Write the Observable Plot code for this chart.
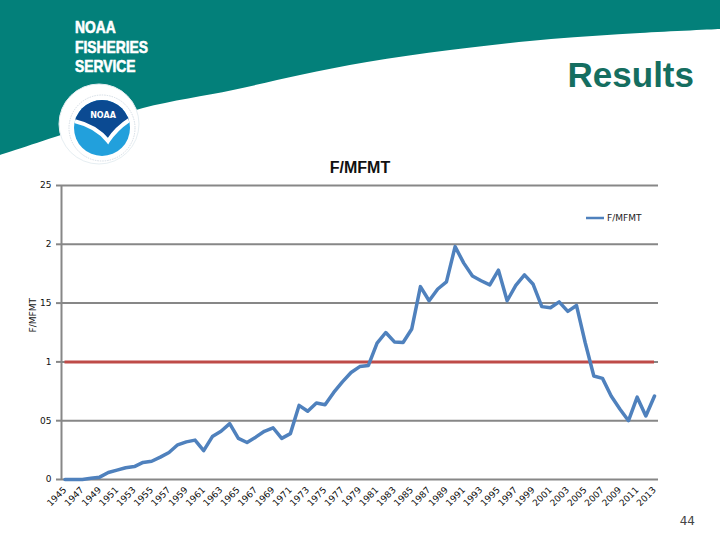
<!DOCTYPE html>
<html>
<head>
<meta charset="utf-8">
<script src="https://cdn.jsdelivr.net/npm/d3@7"></script>
<script src="https://cdn.jsdelivr.net/npm/@observablehq/plot@0.6"></script>
<style>
  body { margin: 0; background: #fff; }
  #chart { width: 720px; height: 540px; position: relative; }
</style>
</head>
<body>
<div id="chart"></div>
<script>
// ---- data ----
const years = [1945,1946,1947,1948,1949,1950,1951,1952,1953,1954,
  1955,1956,1957,1958,1959,1960,1961,1962,1963,1964,
  1965,1966,1967,1968,1969,1970,1971,1972,1973,1974,
  1975,1976,1977,1978,1979,1980,1981,1982,1983,1984,
  1985,1986,1987,1988,1989,1990,1991,1992,1993,1994,
  1995,1996,1997,1998,1999,2000,2001,2002,2003,2004,
  2005,2006,2007,2008,2009,2010,2011,2012,2013];
const fmfmt = [0,0,0,0.01,0.02,0.06,0.08,0.10,0.11,0.145,
  0.155,0.19,0.23,0.295,0.32,0.335,0.245,0.365,0.41,0.475,
  0.35,0.315,0.36,0.41,0.44,0.35,0.39,0.63,0.58,0.65,
  0.635,0.74,0.83,0.91,0.96,0.97,1.16,1.25,1.17,1.165,
  1.28,1.64,1.52,1.62,1.68,1.98,1.84,1.73,1.69,1.655,
  1.78,1.52,1.65,1.74,1.66,1.47,1.46,1.51,1.43,1.48,
  1.165,0.88,0.86,0.71,0.60,0.50,0.70,0.54,0.71];
const mfmtLimit = 1;
const xTickYears = [1945,1947,1949,1951,1953,1955,1957,1959,1961,1963,1965,1967,1969,1971,1973,1975,1977,1979,1981,1983,1985,1987,1989,1991,1993,1995,1997,1999,2001,2003,2005,2007,2009,2011,2013];
const yTicks = [0, 0.5, 1, 1.5, 2, 2.5];
const yTickLabels = ["0", "05", "1", "15", "2", "25"];
const seriesName = "F/MFMT";
const chartTitle = "F/MFMT";
const slideTitle = "Results";
const orgLines = ["NOAA", "FISHERIES", "SERVICE"];
const pageNumber = "44";

const rows = years.map((y, i) => ({year: y, value: fmfmt[i]}));

// ---- decorative slide header (drawn first, behind the chart) ----
function slideHeader() {
  const g = d3.create("svg:g").attr("text-anchor", "start");
  const pts = [[0,155],[70,132],[143,108],[233,90],[300,75],[367,62],[450,50],[551,39],[640,33],[720,29]];
  const edge = d3.line().curve(d3.curveCatmullRom)(pts);
  g.append("path").attr("d", edge + "L720,0L0,0Z").attr("fill", "#03807a");
  orgLines.forEach((t, i) => {
    g.append("text").attr("transform", `translate(75,${33 + i * 19.5}) scale(0.84,1)`)
      .attr("text-anchor", "start")
      .attr("fill", "#fff").attr("stroke", "#fff").attr("stroke-width", 0.6)
      .attr("font-family", "'Liberation Sans', Arial, sans-serif")
      .attr("font-weight", "bold").attr("font-size", 16.5).text(t);
  });
  g.append("text").attr("x", 694).attr("y", 87).attr("text-anchor", "end")
    .attr("fill", "#156e60").attr("font-family", "'Liberation Sans', Arial, sans-serif")
    .attr("font-weight", "bold").attr("font-size", 35).text(slideTitle);
  // logo
  const defs = g.append("defs");
  defs.append("clipPath").attr("id", "logoclip").append("circle").attr("cx", 102).attr("cy", 128).attr("r", 28);
  g.append("circle").attr("cx", 99).attr("cy", 124).attr("r", 40).attr("fill", "#fff").attr("stroke", "#e6eef2");
  g.append("circle").attr("cx", 102).attr("cy", 128).attr("r", 33).attr("fill", "none").attr("stroke", "#b9c6d3").attr("stroke-width", 0.6).attr("stroke-dasharray", "1.5 1");
  g.append("circle").attr("cx", 102).attr("cy", 128).attr("r", 28).attr("fill", "#22a0dc");
  const lg = g.append("g").attr("clip-path", "url(#logoclip)");
  lg.append("path").attr("d", "M70,95H136V118Q120,124 110,140Q100,128 70,119Z").attr("fill", "#0b4a92");
  lg.append("path").attr("d", "M74,121Q96,126 108,141Q117,127 134,117").attr("fill", "none").attr("stroke", "#fff").attr("stroke-width", 4);
  g.append("text").attr("x", 103).attr("y", 118).attr("text-anchor", "middle").attr("fill", "#fff")
    .attr("font-family", "'DejaVu Sans', sans-serif").attr("font-weight", "bold").attr("font-size", 8).text("NOAA");
  g.append("text").attr("x", 695).attr("y", 525).attr("text-anchor", "end").attr("fill", "#444")
    .attr("font-family", "'DejaVu Sans', sans-serif").attr("font-size", 12).text(pageNumber);
  return g.node();
}

function legendMark() {
  const g = d3.create("svg:g");
  g.append("line").attr("x1", 586).attr("x2", 604).attr("y1", 218).attr("y2", 218)
    .attr("stroke", "#4F81BD").attr("stroke-width", 2.5);
  g.append("text").attr("x", 607).attr("y", 221).attr("text-anchor", "start")
    .attr("font-size", 9).attr("fill", "#222").text(seriesName);
  return g.node();
}

const xDomain = [years[0] - 0.4, years[years.length - 1] + 0.46];

const plot = Plot.plot({
  width: 720,
  height: 540,
  marginLeft: 61,
  marginRight: 62,
  marginTop: 185,
  marginBottom: 61,
  style: {background: "transparent", fontFamily: "'DejaVu Sans', sans-serif", overflow: "visible", color: "#111"},
  x: {type: "linear", domain: xDomain},
  y: {domain: [0, 2.5]},
  marks: [
    slideHeader,
    Plot.ruleY(yTicks, {stroke: "#878787", strokeWidth: 2}),
    Plot.ruleX([xDomain[0]], {stroke: "#878787", strokeWidth: 2}),
    Plot.axisY(yTicks, {tickSize: 5, tickPadding: 5, stroke: "#878787", strokeWidth: 2, fontSize: 9,
      tickFormat: d => yTickLabels[yTicks.indexOf(d)], label: null}),
    Plot.axisX(xTickYears, {tickRotate: -45, tickSize: 0, tickPadding: 9, fontSize: 9,
      tickFormat: d => String(d), label: null}),
    Plot.ruleY([mfmtLimit], {x1: years[0], x2: years[years.length - 1], stroke: "#BE4B48", strokeWidth: 3}),
    Plot.line(rows, {x: "year", y: "value", stroke: "#4F81BD", strokeWidth: 3.5, strokeLinejoin: "round"}),
    Plot.text([chartTitle], {frameAnchor: "top", dy: -24, fontSize: 16, fontWeight: "bold",
      fontFamily: "'Liberation Sans', sans-serif"}),
    Plot.text([seriesName], {frameAnchor: "left", dx: -28, rotate: -90, fontSize: 9}),
    legendMark
  ]
});
document.getElementById("chart").appendChild(plot);
</script>
</body>
</html>
